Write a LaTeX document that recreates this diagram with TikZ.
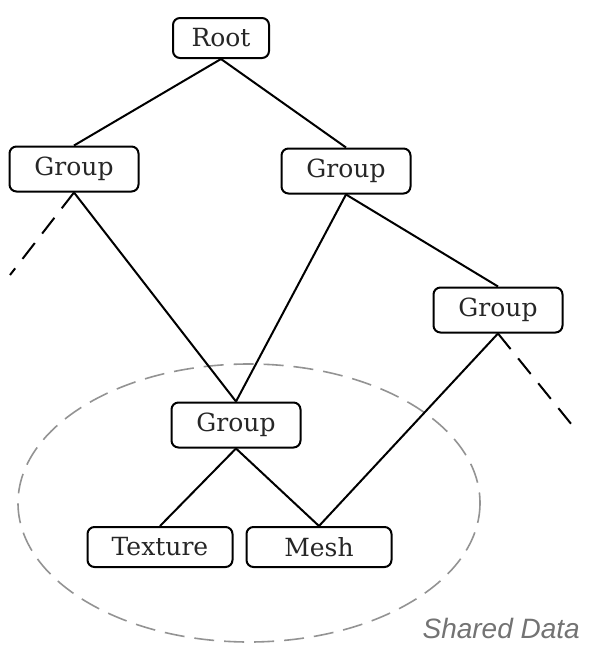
\documentclass[tikz,border=0pt]{standalone}
\usepackage{fontspec}
\setmainfont{DejaVu Serif}
\newfontfamily\labelsans{Liberation Sans}
\usetikzlibrary{shapes.geometric}
\begin{document}
\begin{tikzpicture}[x=1pt,y=-1pt,
  box/.style={draw, line width=2pt, rounded corners=7pt, inner sep=0pt, font=\fontsize{25}{29}\selectfont, text=black!85},
  groupbox/.style={box, minimum width=129pt, minimum height=45pt},
  leafbox/.style={box, minimum width=145pt, minimum height=40pt},
  edge/.style={line width=2pt},
  dashedge/.style={line width=2pt, dash pattern=on 20pt off 12pt},
]
\useasboundingbox (0,0) rectangle (596,648);
\node[box, minimum width=96pt, minimum height=40pt] (root) at (221,38) {Root};
\node[groupbox] (gl) at (74,169) {Group};
\node[groupbox] (gr) at (346,171) {Group};
\node[groupbox] (gf) at (498,310) {Group};
\node[groupbox] (gc) at (236,425) {Group};
\node[leafbox] (tex) at (160,547) {Texture};
\node[leafbox] (mesh) at (319,547) {Mesh};
\coordinate (dl) at (10,275);
\coordinate (dr) at (572,425);
\draw[gray!85, line width=1.6pt, dash pattern=on 20pt off 10pt] (249,503) ellipse [x radius=231, y radius=139];
\node[anchor=base east, font=\labelsans\itshape\fontsize{28}{32}\selectfont, text=black!55, inner sep=0pt] (shared) at (580,638) {Shared Data};
\draw[edge] (root.south) -- (gl.north);
\draw[edge] (root.south) -- (gr.north);
\draw[edge] (gl.south) -- (gc.north);
\draw[dashedge] (gl.south) -- (dl);
\draw[edge] (gr.south) -- (gc.north);
\draw[edge] (gr.south) -- (gf.north);
\draw[edge] (gf.south) -- (mesh.north);
\draw[dashedge] (gf.south) -- (dr);
\draw[edge] (gc.south) -- (tex.north);
\draw[edge] (gc.south) -- (mesh.north);
\end{tikzpicture}
\end{document}
